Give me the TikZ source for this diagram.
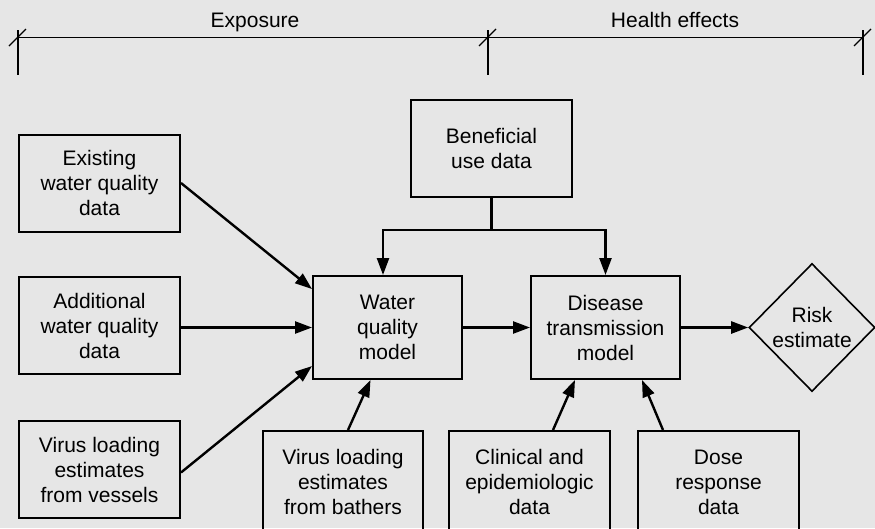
\documentclass[tikz,border=0pt]{standalone}
\usepackage{fontspec}
\setmainfont{Liberation Sans}
\usetikzlibrary{arrows.meta,shapes.geometric,calc}
\definecolor{bggray}{RGB}{230,230,230}
\begin{document}
\begin{tikzpicture}[x=1pt,y=-1pt,
  box/.style={draw=black,line width=2pt,rectangle,inner sep=0pt,align=center,
    font=\fontsize{21}{25}\selectfont},
  wbox/.style={box,minimum width=161pt,minimum height=97pt},
  mbox/.style={box,minimum width=149pt,minimum height=103pt},
  arr/.style={line width=2.4pt,-{Triangle[length=17pt,width=12pt]}},
  lbl/.style={font=\fontsize{21}{25}\selectfont,inner sep=0pt,anchor=base},
  tick/.style={line width=1.6pt},
  slash/.style={line width=1.2pt}]
\fill[bggray] (0,0) rectangle (875,528);
\useasboundingbox (0,0) rectangle (875,528);
\clip (0,0) rectangle (875,528);

% top scale
\coordinate (tl) at (18,37);
\coordinate (tm) at (488,37);
\coordinate (tr) at (863,37);
\draw[line width=1pt] (tl) -- (tr);
\foreach \c in {tl,tm,tr}{
  \draw[tick] ($(\c)+(0,-7)$) -- ($(\c)+(0,38)$);
  \draw[slash] ($(\c)+(-9,9)$) -- ($(\c)+(8,-8)$);
}
\node[lbl] (expo) at (255,27) {Exposure};
\node[lbl] (health) at (675,27) {Health effects};

% boxes
\node[wbox] (exist) at (99.5,183) {Existing\\water quality\\data};
\node[wbox] (addl) at (99.5,325.5) {Additional\\water quality\\data};
\node[wbox] (vessel) at (99.5,469.5) {Virus loading\\estimates\\from vessels};
\node[mbox] (water) at (387.5,327.5) {Water\\quality\\model};
\node[mbox] (disease) at (605.5,327.5) {Disease\\transmission\\model};
\node[wbox] (benef) at (491.5,148.5) {Beneficial\\use data};
\node[box,minimum width=160pt,minimum height=102pt] (bather) at (343,482) {Virus loading\\estimates\\from bathers};
\node[box,minimum width=161pt,minimum height=102pt] (clin) at (529.5,482) {Clinical and\\epidemiologic\\data};
\node[box,minimum width=161pt,minimum height=102pt] (dose) at (718.5,482) {Dose\\response\\data};
\node[draw=black,line width=1.6pt,diamond,aspect=0.98,minimum width=126pt,minimum height=128pt,inner sep=0pt,align=center,
  font=\fontsize{21}{25}\selectfont] (risk) at (812,327.5) {Risk\\estimate};

% connectors
\draw[arr] (exist.east) -- ($(water.north west)+(0,14)$);
\draw[arr] (addl.east |- water.west) -- (water.west);
\draw[arr] ($(vessel.east)+(0,3)$) -- ($(water.south west)+(0,-14)$);
\draw[arr] ($(bather.north)+(5,0)$) -- ($(water.south)+(-17,0)$);
\draw[arr] ($(clin.north)+(23.5,0)$) -- ($(disease.south)+(-30.5,0)$);
\draw[arr] ($(dose.north)+(-55.5,0)$) -- ($(disease.south)+(36.5,0)$);
\draw[arr] (water.east) -- (disease.west);
\draw[arr] (disease.east) -- (risk.west);
\coordinate (br) at ($(benef.south)+(0,32)$);
\draw[line width=2.4pt] (benef.south) -- (br);
\draw[arr] (br) -| ($(water.north)+(-4.5,0)$);
\draw[arr] (br) -| (disease.north);
\end{tikzpicture}
\end{document}
